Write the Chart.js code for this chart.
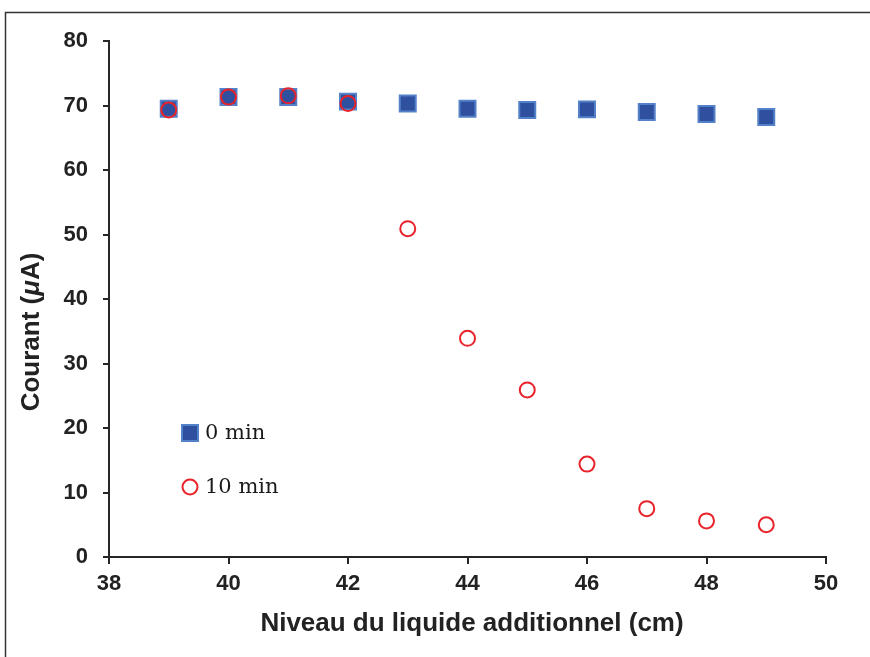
<!DOCTYPE html>
<html>
<head>
<meta charset="utf-8">
<script src="https://cdn.jsdelivr.net/npm/chart.js@4"></script>
<style>
  html, body { margin: 0; padding: 0; background: #fff; }
  #wrap { width: 870px; height: 657px; }
</style>
</head>
<body>
<div id="wrap"><canvas id="chart" width="870" height="657"></canvas></div>
<script>
// niveau (cm)
const levels = [39, 40, 41, 42, 43, 44, 45, 46, 47, 48, 49];
// courant (uA)
const current0 = [69.5, 71.3, 71.3, 70.6, 70.3, 69.5, 69.3, 69.4, 69.0, 68.7, 68.2];
const current10 = [69.3, 71.3, 71.5, 70.3, 50.9, 33.9, 25.9, 14.4, 7.5, 5.6, 5.0];
const seriesNames = ['0 min', '10 min'];
const xTicks = [38, 40, 42, 44, 46, 48, 50];
const yTicks = [0, 10, 20, 30, 40, 50, 60, 70, 80];

const toPoints = (xs, ys) => xs.map((x, i) => ({ x: x, y: ys[i] }));
const axisColor = '#262626';
const tickFont = { family: 'Liberation Sans', size: 22, weight: 'bold' };

// Frame, axis titles and the legend inside the plot
const decorPlugin = {
    id: 'decor',
    afterDraw(chart) {
        const ctx = chart.ctx;
        ctx.save();

        // outer frame (left and top edges visible)
        ctx.strokeStyle = '#333';
        ctx.lineWidth = 1.5;
        ctx.beginPath();
        ctx.moveTo(5.5, 657);
        ctx.lineTo(5.5, 12.5);
        ctx.lineTo(870, 12.5);
        ctx.stroke();

        ctx.fillStyle = '#222';
        ctx.font = 'bold 26px "Liberation Sans"';
        ctx.textAlign = 'center';
        ctx.textBaseline = 'middle';
        ctx.fillText('Niveau du liquide additionnel (cm)', 472, 624);

        // y title with italic mu
        ctx.translate(32, 332);
        ctx.rotate(-Math.PI / 2);
        const parts = [
            { t: 'Courant (', f: 'bold 26px "Liberation Sans"' },
            { t: 'μ', f: 'italic bold 26px "Liberation Sans"' },
            { t: 'A)', f: 'bold 26px "Liberation Sans"' }
        ];
        let total = 0;
        parts.forEach(p => { ctx.font = p.f; p.w = ctx.measureText(p.t).width; total += p.w; });
        let px = -total / 2;
        ctx.textAlign = 'left';
        parts.forEach(p => { ctx.font = p.f; ctx.fillText(p.t, px, 0); px += p.w; });
        ctx.restore();

        // legend
        ctx.save();
        const ds = chart.data.datasets;
        const entries = [
            { ds: ds.find(d => d.label === seriesNames[0]), y: 433 },
            { ds: ds.find(d => d.label === seriesNames[1]), y: 487 }
        ];
        entries.forEach(e => {
            const d = e.ds;
            ctx.lineWidth = d.borderWidth;
            ctx.strokeStyle = d.borderColor;
            ctx.fillStyle = d.backgroundColor;
            if (d.pointStyle === 'rect') {
                ctx.fillRect(182, e.y - 8, 16, 16);
                ctx.strokeRect(182, e.y - 8, 16, 16);
            } else {
                ctx.beginPath();
                ctx.arc(190, e.y, 7.5, 0, Math.PI * 2);
                ctx.stroke();
            }
            ctx.fillStyle = '#1a1a1a';
            ctx.font = '21px "DejaVu Serif"';
            ctx.textAlign = 'left';
            ctx.textBaseline = 'middle';
            ctx.fillText(d.label, 205, e.y + 1);
        });
        ctx.restore();
    }
};

new Chart(document.getElementById('chart'), {
    type: 'scatter',
    data: {
        datasets: [
            {
                label: seriesNames[0],
                data: toPoints(levels, current0),
                pointStyle: 'rect',
                pointRadius: 11.3,
                backgroundColor: '#2f4f9f',
                borderColor: '#5482c8',
                borderWidth: 2,
                order: 1
            },
            {
                label: seriesNames[1],
                data: toPoints(levels, current10),
                pointStyle: 'circle',
                pointRadius: 7.5,
                backgroundColor: 'rgba(0,0,0,0)',
                borderColor: '#e8232b',
                borderWidth: 2,
                order: 0
            }
        ]
    },
    options: {
        responsive: false,
        animation: false,
        layout: { padding: { top: 41, right: 44, left: 0, bottom: 0 } },
        plugins: { legend: { display: false }, tooltip: { enabled: false } },
        scales: {
            x: {
                type: 'linear',
                min: xTicks[0],
                max: xTicks[xTicks.length - 1],
                afterBuildTicks: s => { s.ticks = xTicks.map(v => ({ value: v })); },
                afterFit: s => { s.height = 100; },
                ticks: { font: tickFont, color: '#222', padding: 7, maxRotation: 0 },
                grid: { drawOnChartArea: false, drawTicks: true, tickLength: 7, color: axisColor, lineWidth: 2 },
                border: { color: axisColor, width: 2 }
            },
            y: {
                min: yTicks[0],
                max: yTicks[yTicks.length - 1],
                afterBuildTicks: s => { s.ticks = yTicks.map(v => ({ value: v })); },
                afterFit: s => { s.width = 109; },
                ticks: { font: tickFont, color: '#222', padding: 15 },
                grid: { drawOnChartArea: false, drawTicks: true, tickLength: 6, color: axisColor, lineWidth: 2 },
                border: { color: axisColor, width: 2 }
            }
        }
    },
    plugins: [decorPlugin]
});
</script>
</body>
</html>
